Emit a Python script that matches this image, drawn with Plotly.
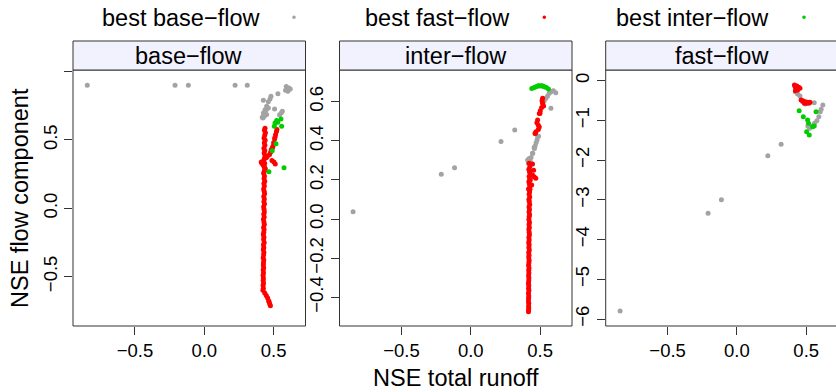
import plotly.graph_objects as go

# ---------------- data ----------------
panel_titles = ["base\u2212flow", "inter\u2212flow", "fast\u2212flow"]
legend_labels = ["best base\u2212flow", "best fast\u2212flow", "best inter\u2212flow"]
x_tick_vals = [-0.5, 0.0, 0.5]
x_tick_text = ["\u22120.5", "0.0", "0.5"]

base_y_tick_vals = [1.0, 0.5, 0.0, -0.5]
base_y_tick_text = ["", "0.5", "0.0", "\u22120.5"]
inter_y_tick_vals = [0.6, 0.4, 0.2, 0.0, -0.2, -0.4]
inter_y_tick_text = ["0.6", "0.4", "0.2", "0.0", "\u22120.2", "\u22120.4"]
fast_y_tick_vals = [0, -1, -2, -3, -4, -5, -6]
fast_y_tick_text = ["0", "\u22121", "\u22122", "\u22123", "\u22124", "\u22125", "\u22126"]

# panel 1 : base-flow
base_gray_x = [-0.844, -0.211, -0.115, 0.222, 0.31, 0.591, 0.61, 0.586, 0.62, 0.603, 0.531,
               0.481, 0.474, 0.462, 0.426, 0.507, 0.45, 0.438, 0.462, 0.426, 0.433, 0.45,
               0.563, 0.555, 0.543, 0.418, 0.447, 0.435, 0.423, 0.428]
base_gray_y = [0.90, 0.90, 0.90, 0.90, 0.90, 0.892, 0.881, 0.863, 0.873, 0.856, 0.839,
               0.82, 0.80, 0.78, 0.79, 0.727, 0.746, 0.722, 0.734, 0.698, 0.673, 0.686,
               0.71, 0.698, 0.685, 0.666, 0.722, 0.698, 0.661, 0.678]
base_red_x = [0.524, 0.52, 0.514, 0.51, 0.507, 0.50, 0.495, 0.49, 0.483, 0.478, 0.471, 0.455,
              0.447, 0.502, 0.488, 0.512, 0.411, 0.415, 0.423, 0.43, 0.44,
              0.438, 0.434, 0.441, 0.436, 0.431, 0.439, 0.433, 0.437, 0.43, 0.436,
              0.432, 0.438, 0.434, 0.429, 0.435, 0.431, 0.436, 0.433, 0.428, 0.434,
              0.431, 0.436, 0.43, 0.433, 0.428, 0.432, 0.435, 0.429, 0.433, 0.43,
              0.434, 0.428, 0.431, 0.433, 0.429, 0.432, 0.427, 0.43, 0.433, 0.428,
              0.431, 0.429, 0.426, 0.43, 0.428, 0.432, 0.427, 0.429, 0.426, 0.43,
              0.428, 0.425, 0.429, 0.427, 0.426, 0.428, 0.425, 0.427, 0.424, 0.426,
              0.425, 0.427, 0.424, 0.426, 0.423,
              0.436, 0.447, 0.457, 0.464, 0.468, 0.472, 0.477]
base_red_y = [0.576, 0.56, 0.539, 0.52, 0.508, 0.48, 0.454, 0.44, 0.429, 0.41, 0.393, 0.381,
              0.37, 0.339, 0.349, 0.325, 0.339, 0.33, 0.32, 0.307, 0.29,
              0.585, 0.571, 0.552, 0.536, 0.515, 0.498, 0.479, 0.461, 0.44, 0.423,
              0.404, 0.386, 0.366, 0.35, 0.329, 0.311, 0.294, 0.272, 0.256, 0.236,
              0.219, 0.198, 0.181, 0.163, 0.142, 0.125, 0.106, 0.087, 0.069, 0.048,
              0.031, 0.012, -0.006, -0.027, -0.043, -0.064, -0.08, -0.101, -0.118, -0.138,
              -0.155, -0.175, -0.192, -0.212, -0.229, -0.25, -0.266, -0.287, -0.303, -0.324,
              -0.34, -0.361, -0.378, -0.398, -0.415, -0.435, -0.452, -0.472, -0.489, -0.51,
              -0.526, -0.547, -0.563, -0.584, -0.6, -0.62, -0.638, -0.656, -0.676,
              -0.685, -0.7, -0.712, -0.722, -0.733, -0.745][:0] or []
# (re-assembled below to keep x/y aligned)
base_red_y = [0.576, 0.56, 0.539, 0.52, 0.508, 0.48, 0.454, 0.44, 0.429, 0.41, 0.393, 0.381,
              0.37, 0.339, 0.349, 0.325, 0.339, 0.33, 0.32, 0.307, 0.29,
              0.585, 0.571, 0.552, 0.536, 0.515, 0.498, 0.479, 0.461, 0.44, 0.423,
              0.404, 0.386, 0.366, 0.35, 0.329, 0.311, 0.294, 0.272, 0.256, 0.236,
              0.219, 0.198, 0.181, 0.163, 0.142, 0.125, 0.106, 0.087, 0.069, 0.048,
              0.031, 0.012, -0.006, -0.027, -0.043, -0.064, -0.08, -0.101, -0.118, -0.138,
              -0.155, -0.175, -0.192, -0.212, -0.229, -0.25, -0.266, -0.287, -0.303, -0.324,
              -0.34, -0.361, -0.378, -0.398, -0.415, -0.435, -0.452, -0.472, -0.489, -0.51,
              -0.526, -0.547, -0.563, -0.584, -0.6, -0.62, -0.638, -0.656, -0.676,
              -0.685, -0.7, -0.712, -0.722, -0.733, -0.745]
base_green_x = [0.553, 0.522, 0.51, 0.505, 0.558, 0.53, 0.517, 0.49, 0.575, 0.466]
base_green_y = [0.654, 0.642, 0.625, 0.60, 0.60, 0.63, 0.473, 0.422, 0.296, 0.268]

# panel 2 : inter-flow
inter_gray_x = [-0.849, -0.213, -0.117, 0.218, 0.317, 0.578, 0.613, 0.596, 0.578, 0.566,
                0.554, 0.542, 0.53, 0.518, 0.489, 0.482, 0.478, 0.471, 0.464, 0.459, 0.457,
                0.447, 0.445, 0.435, 0.423, 0.421, 0.416, 0.41, 0.418, 0.428]
inter_gray_y = [0.037, 0.229, 0.262, 0.397, 0.455, 0.566, 0.646, 0.656, 0.651, 0.643,
                0.629, 0.617, 0.605, 0.592, 0.423, 0.421, 0.404, 0.39, 0.373, 0.361, 0.366,
                0.336, 0.336, 0.315, 0.305, 0.31, 0.285, 0.302, 0.295, 0.298]
inter_red_x = [0.518, 0.514, 0.518, 0.525, 0.511, 0.501, 0.494, 0.482, 0.477, 0.487, 0.494,
               0.487, 0.47, 0.464, 0.499, 0.465,
               0.422, 0.453, 0.457, 0.469, 0.439, 0.417, 0.429, 0.445, 0.445, 0.427, 0.421,
               0.426, 0.419, 0.424, 0.428, 0.421, 0.425, 0.419, 0.423, 0.426, 0.42,
               0.424, 0.421, 0.425, 0.419, 0.422, 0.425, 0.42, 0.423, 0.42, 0.424,
               0.421, 0.419, 0.423, 0.42, 0.422, 0.419, 0.421, 0.423, 0.419, 0.421,
               0.418, 0.421, 0.419, 0.422, 0.418, 0.42, 0.418, 0.421, 0.419, 0.417,
               0.42, 0.418, 0.419, 0.417, 0.419, 0.418, 0.416, 0.418, 0.417, 0.419,
               0.416, 0.418, 0.417, 0.416, 0.418, 0.417]
inter_red_y = [0.617, 0.605, 0.592, 0.578, 0.57, 0.554, 0.539, 0.506, 0.492, 0.48, 0.471,
               0.458, 0.446, 0.437, 0.54, 0.438,
               0.25, 0.25, 0.216, 0.208, 0.174, 0.153, 0.199, 0.281, 0.225, 0.152, 0.285,
               0.268, 0.255, 0.24, 0.229, 0.218, 0.203, 0.19, 0.179, 0.166, 0.152,
               0.139, 0.127, 0.113, 0.1, 0.089, 0.074, 0.062, 0.049, 0.036, 0.022,
               0.011, -0.003, -0.016, -0.028, -0.042, -0.054, -0.068, -0.081, -0.093, -0.107,
               -0.12, -0.132, -0.146, -0.158, -0.171, -0.185, -0.197, -0.211, -0.224, -0.236,
               -0.25, -0.262, -0.276, -0.289, -0.301, -0.315, -0.328, -0.34, -0.354, -0.366,
               -0.38, -0.393, -0.405, -0.419, -0.431, -0.445]
inter_red_x += [0.418, 0.417, 0.416]
inter_red_y += [-0.455, -0.465, -0.474]
inter_green_x = [0.44, 0.457, 0.47, 0.483, 0.49, 0.5, 0.51, 0.52, 0.53, 0.545, 0.56]
inter_green_y = [0.667, 0.672, 0.676, 0.68, 0.682, 0.68, 0.682, 0.68, 0.676, 0.672, 0.665]

# panel 3 : fast-flow
fast_gray_x = [-0.843, -0.208, -0.112, 0.223, 0.319, 0.422, 0.438, 0.455, 0.474, 0.493,
               0.522, 0.558, 0.62, 0.608, 0.601, 0.591, 0.577, 0.56, 0.544, 0.524, 0.512]
fast_gray_y = [-5.8, -3.34, -3.0, -1.89, -1.6, -0.277, -0.335, -0.385, -0.529, -0.587,
               -0.569, -0.554, -0.612, -0.72, -0.78, -0.906, -1.007, -1.072, -1.14, -1.2, -1.14]
fast_red_x = [0.415, 0.432, 0.446, 0.427, 0.422, 0.438, 0.455, 0.42, 0.44,
              0.463, 0.474, 0.493, 0.51, 0.527, 0.487, 0.503, 0.48, 0.518]
fast_red_y = [-0.108, -0.133, -0.166, -0.191, -0.252, -0.234, -0.191, -0.15, -0.21,
              -0.486, -0.504, -0.529, -0.544, -0.544, -0.569, -0.569, -0.52, -0.56]
fast_green_x = [0.449, 0.571, 0.479, 0.51, 0.546, 0.517, 0.503, 0.522, 0.558]
fast_green_y = [-0.755, -0.78, -0.906, -0.99, -1.158, -1.072, -1.284, -1.367, -1.14]

# ---------------- styling / layout ----------------
W, H = 836, 392
FONT = "Liberation Sans"
GRAY, RED, GREEN = "#a3a3a3", "#ff0000", "#00cd00"
LINE = "#333333"
panel_px = [(73, 305.5), (339.5, 572), (605.7, 838)]
top_px, bot_px = 70, 326
strip_top_px = 41
x_ranges = [[-0.947, 0.730], [-0.947, 0.730], [-0.947, 0.715]]
y_ranges = [[-0.861, 1.012], [-0.547, 0.762], [-6.176, 0.269]]
y_ticks = [(base_y_tick_vals, base_y_tick_text), (inter_y_tick_vals, inter_y_tick_text),
           (fast_y_tick_vals, fast_y_tick_text)]

def px2x(p):
    return p / W

def px2y(p):
    return (H - p) / H

fig = go.Figure()

panels = [
    (base_gray_x, base_gray_y, base_red_x, base_red_y, base_green_x, base_green_y),
    (inter_gray_x, inter_gray_y, inter_red_x, inter_red_y, inter_green_x, inter_green_y),
    (fast_gray_x, fast_gray_y, fast_red_x, fast_red_y, fast_green_x, fast_green_y),
]

for i, (gx, gy, rx, ry, grx, gry) in enumerate(panels):
    sfx = "" if i == 0 else str(i + 1)
    for xs, ys, col in [(gx, gy, GRAY), (rx, ry, RED), (grx, gry, GREEN)]:
        fig.add_trace(go.Scatter(x=xs, y=ys, mode="markers", xaxis="x" + sfx, yaxis="y" + sfx,
                                 marker=dict(color=col, size=5, line=dict(width=0)),
                                 hoverinfo="skip", showlegend=False, cliponaxis=False))
    x0, x1 = panel_px[i]
    fig.layout["xaxis" + sfx] = dict(
        domain=[px2x(x0), min(1.0, px2x(x1))], anchor="y" + sfx, range=x_ranges[i],
        tickvals=x_tick_vals, ticktext=x_tick_text, ticks="outside", ticklen=8,
        tickcolor=LINE, tickwidth=1, showgrid=False, zeroline=False, showline=False,
        tickfont=dict(family=FONT, size=18.5, color="black"), fixedrange=True)
    tv, tt = y_ticks[i]
    fig.layout["yaxis" + sfx] = dict(
        domain=[px2y(bot_px), px2y(top_px)], anchor="x" + sfx, range=y_ranges[i],
        tickvals=tv, ticktext=tt, ticks="outside", ticklen=8, tickangle=-90,
        tickcolor=LINE, tickwidth=1, showgrid=False, zeroline=False, showline=False,
        tickfont=dict(family=FONT, size=18.5, color="black"), fixedrange=True)

shapes = []
annotations = []
for i in range(3):
    x0, x1 = panel_px[i]
    # panel border
    shapes.append(dict(type="rect", xref="paper", yref="paper", x0=px2x(x0), x1=px2x(x1),
                       y0=px2y(bot_px), y1=px2y(top_px), line=dict(color=LINE, width=1),
                       fillcolor="rgba(0,0,0,0)", layer="above"))
    # strip
    shapes.append(dict(type="rect", xref="paper", yref="paper", x0=px2x(x0), x1=px2x(x1),
                       y0=px2y(top_px), y1=px2y(strip_top_px), line=dict(color=LINE, width=1),
                       fillcolor="#f2f2ff", layer="above"))
    annotations.append(dict(text=panel_titles[i], xref="paper", yref="paper",
                            x=px2x((x0 + x1) / 2), y=px2y(56), xanchor="center", yanchor="middle",
                            showarrow=False, font=dict(family=FONT, size=23.5, color="black")))

legend_right_px = [262, 511.7, 770.7]
legend_dot_px = [294, 544.3, 804]
legend_cols = [GRAY, RED, GREEN]
for lab, rx, dx, col in zip(legend_labels, legend_right_px, legend_dot_px, legend_cols):
    annotations.append(dict(text=lab, xref="paper", yref="paper", x=px2x(rx), y=px2y(18),
                            xanchor="right", yanchor="middle", showarrow=False,
                            font=dict(family=FONT, size=23.5, color="black")))
    r = 1.8
    shapes.append(dict(type="circle", xref="paper", yref="paper", x0=px2x(dx - r), x1=px2x(dx + r),
                       y0=px2y(17.3 + r), y1=px2y(17.3 - r), fillcolor=col, line=dict(width=0)))

annotations.append(dict(text="NSE total runoff", xref="paper", yref="paper", x=px2x(455.5),
                        y=px2y(378), xanchor="center", yanchor="middle", showarrow=False,
                        font=dict(family=FONT, size=23.5, color="black")))
annotations.append(dict(text="NSE flow component", xref="paper", yref="paper", x=px2x(20),
                        y=px2y(198), xanchor="center", yanchor="middle", textangle=-90,
                        showarrow=False, font=dict(family=FONT, size=23.5, color="black")))

fig.update_layout(width=W, height=H, autosize=False, margin=dict(l=0, r=0, t=0, b=0, pad=0),
                  plot_bgcolor="white", paper_bgcolor="white", showlegend=False,
                  shapes=shapes, annotations=annotations)

fig.write_html("out.html", config={"displayModeBar": False})
